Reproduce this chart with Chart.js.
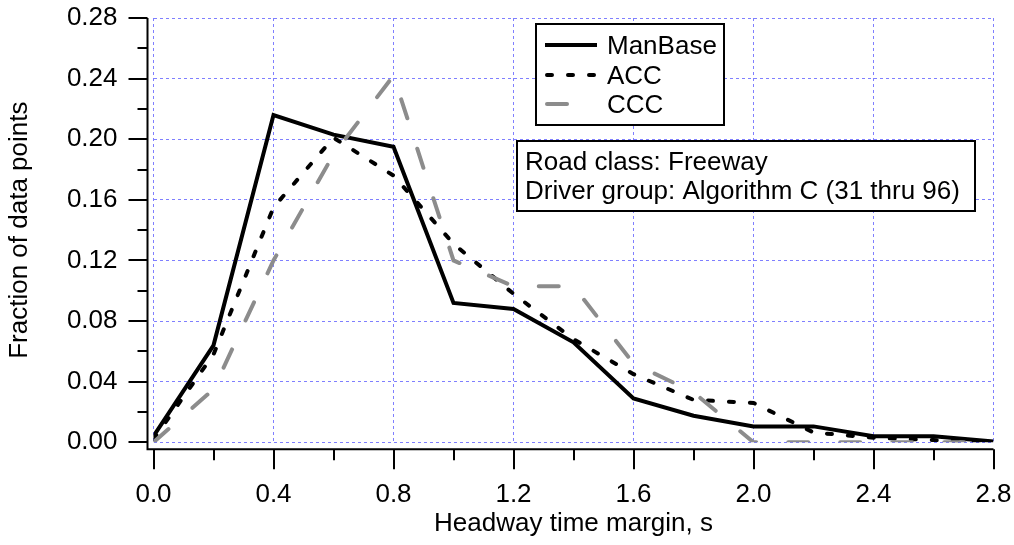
<!DOCTYPE html>
<html>
<head>
<meta charset="utf-8">
<script src="https://cdn.jsdelivr.net/npm/chart.js@4"></script>
<style>
  html, body { margin: 0; padding: 0; background: #fff; }
  #wrap { width: 1014px; height: 545px; }
</style>
</head>
<body>
<div id="wrap"><canvas id="c" width="1014" height="545"></canvas></div>
<script>
// Headway time margin distribution, freeway, Algorithm C drivers
const headway = [0, 0.2, 0.4, 0.6, 0.8, 1.0, 1.2, 1.4, 1.6, 1.8, 2.0, 2.2, 2.4, 2.6, 2.8];
const manBase = [0.004, 0.064, 0.216, 0.203, 0.195, 0.092, 0.088, 0.066, 0.029, 0.0175, 0.0105, 0.0105, 0.004, 0.004, 0.0005];
const acc     = [0.002, 0.058, 0.155, 0.201, 0.176, 0.131, 0.098, 0.068, 0.045, 0.028, 0.026, 0.0065, 0.003, 0.0015, 0.0003];
const ccc     = [0, 0.035, 0.12, 0.19, 0.242, 0.12, 0.103, 0.103, 0.052, 0.033, 0, 0, 0, 0, 0];
const seriesNames = ['ManBase', 'ACC', 'CCC'];
const noteLines = ['Road class: Freeway', 'Driver group: Algorithm C (31 thru 96)'];

const FONT = "'Liberation Sans', Arial, sans-serif";
const FS = 26;
const GRID = '#7f7fff';
const GRAY = '#8c8c8c';

function pts(ys) { return headway.map((x, i) => ({ x: x, y: ys[i] })); }

// no extra room for edge labels, the plot area is fixed by the layout padding
function noPad(s) {
  s.paddingTop = 0; s.paddingBottom = 0; s.paddingLeft = 0; s.paddingRight = 0;
}

// axis lines + major/minor ticks, drawn a few px off the plot area like the original
const axesPlugin = {
  id: 'axes',
  afterDraw(chart) {
    const { ctx, scales: { x, y } } = chart;
    const axX = x.getPixelForValue(0) - 6;
    const axY = y.getPixelForValue(0) + 7;
    ctx.save();
    ctx.strokeStyle = '#000';
    ctx.lineWidth = 2;
    ctx.beginPath();
    ctx.moveTo(axX, y.getPixelForValue(0.28));
    ctx.lineTo(axX, axY);
    ctx.lineTo(x.getPixelForValue(2.8), axY);
    ctx.stroke();
    // y ticks every 0.02, long on 0.04
    for (let i = 0; i <= 14; i++) {
      const py = Math.round(y.getPixelForValue(i * 0.02));
      const len = i % 2 === 0 ? 19 : 10;
      ctx.beginPath();
      ctx.moveTo(axX - len, py);
      ctx.lineTo(axX, py);
      ctx.stroke();
    }
    // x ticks every 0.2, long on 0.4
    for (let i = 0; i <= 14; i++) {
      const px = Math.round(x.getPixelForValue(i * 0.2));
      const len = i % 2 === 0 ? 20 : 11;
      ctx.beginPath();
      ctx.moveTo(px, axY);
      ctx.lineTo(px, axY + len);
      ctx.stroke();
    }
    ctx.restore();
  }
};

// legend box and the road class note, both white boxes over the grid
const boxesPlugin = {
  id: 'boxes',
  afterDraw(chart) {
    const ctx = chart.ctx;
    ctx.save();
    ctx.lineWidth = 2;
    ctx.strokeStyle = '#000';
    ctx.fillStyle = '#fff';
    ctx.fillRect(536, 24, 188, 101);
    ctx.strokeRect(536, 24, 188, 101);
    ctx.fillRect(517, 141, 458, 70);
    ctx.strokeRect(517, 141, 458, 70);

    const rows = [45, 75, 104];
    chart.data.datasets.forEach((ds, i) => {
      ctx.save();
      ctx.strokeStyle = ds.borderColor;
      ctx.lineWidth = ds.borderWidth;
      ctx.lineCap = ds.borderCapStyle || 'butt';
      ctx.setLineDash(ds.borderDash || []);
      ctx.beginPath();
      const end = i === 2 ? 567 : 597;
      ctx.moveTo(i === 0 ? 545 : 547, rows[i]);
      ctx.lineTo(end, rows[i]);
      ctx.stroke();
      ctx.restore();
      ctx.fillStyle = '#000';
      ctx.font = FS + 'px ' + FONT;
      ctx.textBaseline = 'alphabetic';
      ctx.fillText(ds.label, 607, rows[i] + 9);
    });

    ctx.fillStyle = '#000';
    ctx.font = FS + 'px ' + FONT;
    ctx.textBaseline = 'alphabetic';
    ctx.fillText(noteLines[0], 525, 170);
    ctx.fillText(noteLines[1], 525, 199);
    ctx.restore();
  }
};

new Chart(document.getElementById('c'), {
  type: 'line',
  data: {
    datasets: [
      { label: seriesNames[0], data: pts(manBase), borderColor: '#000', borderWidth: 4,
        pointRadius: 0, tension: 0, order: 2, borderJoinStyle: 'miter' },
      { label: seriesNames[1], data: pts(acc), borderColor: '#000', borderWidth: 4,
        borderDash: [5, 16], borderCapStyle: 'round', pointRadius: 0, tension: 0, order: 1 },
      { label: seriesNames[2], data: pts(ccc), borderColor: GRAY, borderWidth: 4,
        borderDash: [20, 32], borderCapStyle: 'round', pointRadius: 0, tension: 0, order: 0 }
    ]
  },
  options: {
    responsive: false,
    animation: false,
    layout: { padding: { top: 18, right: 20.5, left: 0, bottom: 0 } },
    plugins: { legend: { display: false }, tooltip: { enabled: false } },
    scales: {
      x: {
        type: 'linear', min: 0, max: 2.8,
        afterFit(s) { s.height = 102.7; noPad(s); },
        ticks: { stepSize: 0.4, padding: 37, color: '#000', font: { family: FONT, size: FS },
                 callback: v => v.toFixed(1), maxRotation: 0, autoSkip: false },
        grid: { color: GRID, lineWidth: 1, drawTicks: false },
        border: { display: false, dash: [3, 3] },
        title: { display: true, text: 'Headway time margin, s', color: '#000',
                 font: { family: FONT, size: FS }, padding: { top: 0, bottom: 6 } }
      },
      y: {
        min: 0, max: 0.28,
        afterFit(s) { s.width = 153.5; noPad(s); },
        ticks: { stepSize: 0.04, padding: 36, color: '#000', font: { family: FONT, size: FS },
                 callback: v => v.toFixed(2), autoSkip: false },
        grid: { color: GRID, lineWidth: 1, drawTicks: false },
        border: { display: false, dash: [3, 3] },
        title: { display: true, text: 'Fraction of data points', color: '#000',
                 font: { family: FONT, size: FS }, padding: { top: 4, bottom: 0 } }
      }
    }
  },
  plugins: [axesPlugin, boxesPlugin]
});
</script>
</body>
</html>
